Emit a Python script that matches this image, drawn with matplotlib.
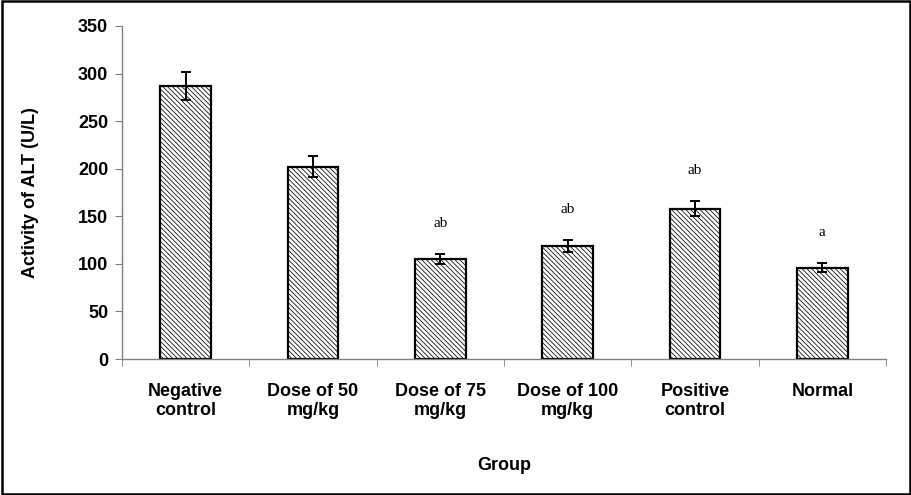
import numpy as np
import matplotlib.pyplot as plt
from matplotlib.patches import Rectangle

groups = ['Negative\ncontrol', 'Dose of 50\nmg/kg', 'Dose of 75\nmg/kg',
          'Dose of 100\nmg/kg', 'Positive\ncontrol', 'Normal']
alt = [287, 202, 105, 119, 158, 96]
err = [15, 11, 5, 6, 8, 4.5]
letters = ['', '', 'ab', 'ab', 'ab', 'a']

plt.rcParams['font.family'] = ['Liberation Sans', 'DejaVu Sans']
plt.rcParams['hatch.linewidth'] = 0.55

fig = plt.figure(figsize=(9.12, 4.95), dpi=100)
ax = fig.add_axes([0.1338, 0.2747, 0.8377, 0.6728])

x = np.arange(len(groups))
ax.bar(x, alt, width=0.4, color='white', edgecolor='black', linewidth=1.6,
       hatch='\\' * 7)
ax.errorbar(x, alt, yerr=err, fmt='none', ecolor='black', elinewidth=1.4,
            capsize=3.3, capthick=1.4)

for xi, v, e, t in zip(x, alt, err, letters):
    if t:
        ax.text(xi, v + e + 32, t, ha='center', va='center',
                family='Liberation Serif', fontsize=11)

ax.set_xlim(-0.5, len(groups) - 0.5)
ax.set_ylim(0, 350)
ax.set_yticks(range(0, 351, 50))
ax.set_xticks(x)
ax.set_xticklabels(groups, fontweight='bold', fontsize=13, linespacing=1.2)
ax.set_xticks(np.arange(-0.5, len(groups), 1), minor=True)
ax.tick_params(axis='x', which='major', length=0, pad=17)
ax.tick_params(axis='x', which='minor', length=5, color='#808080')
ax.tick_params(axis='y', length=5, color='#808080', labelsize=13, pad=5)
for lab in ax.get_yticklabels():
    lab.set_fontweight('bold')

for s in ['top', 'right']:
    ax.spines[s].set_visible(False)
for s in ['left', 'bottom']:
    ax.spines[s].set_color('#808080')
    ax.spines[s].set_linewidth(1.0)

ax.set_ylabel('Activity of ALT (U/L)', fontweight='bold', fontsize=13, labelpad=28)
ax.set_xlabel('Group', fontweight='bold', fontsize=13, labelpad=27)

fig.patches.append(Rectangle((0.002, 0.003), 0.996, 0.994, transform=fig.transFigure,
                             fill=False, edgecolor='black', linewidth=1.8))

fig.savefig('out.png', dpi=100)
